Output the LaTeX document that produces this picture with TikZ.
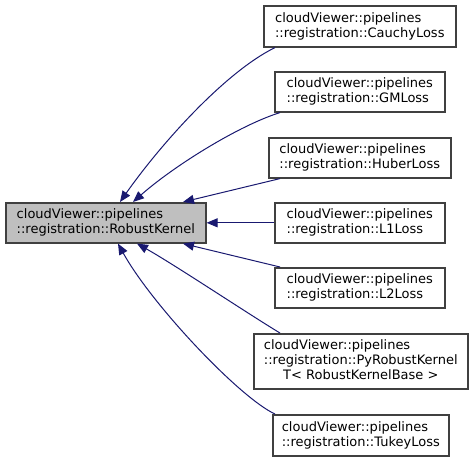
\documentclass[tikz,border=0pt]{standalone}
\usepackage{fontspec}
\setmainfont{DejaVu Sans}
\usetikzlibrary{arrows.meta}
\definecolor{edgeblue}{HTML}{191970}
\definecolor{boxborder}{HTML}{404040}
\definecolor{basefill}{HTML}{BFBFBF}
\begin{document}
\begin{tikzpicture}[x=1pt,y=-1pt,
  cls/.style={draw=boxborder, line width=1.6pt, fill=white, inner sep=0pt,
    align=left, font=\fontsize{13}{15}\selectfont, anchor=north west},
  inh/.style={draw=edgeblue, line width=1pt,
    {Triangle[length=11pt,width=9pt,fill=edgeblue]}-}]
\useasboundingbox (0,0) rectangle (472,460);
\node[cls, fill=basefill, minimum width=200pt, minimum height=40pt] (base) at (5,202)
  {cloudViewer::pipelines\\::registration::RobustKernel};
\node[cls, minimum width=192pt, minimum height=41pt] (cauchy) at (263,5)
  {cloudViewer::pipelines\\::registration::CauchyLoss};
\node[cls, minimum width=170pt, minimum height=40pt] (gm) at (274,71)
  {cloudViewer::pipelines\\::registration::GMLoss};
\node[cls, minimum width=182pt, minimum height=40pt] (huber) at (268,137)
  {cloudViewer::pipelines\\::registration::HuberLoss};
\node[cls, minimum width=170pt, minimum height=40pt] (l1) at (274,202)
  {cloudViewer::pipelines\\::registration::L1Loss};
\node[cls, minimum width=170pt, minimum height=40pt] (l2) at (274,267)
  {cloudViewer::pipelines\\::registration::L2Loss};
\node[cls, minimum width=214pt, minimum height=55pt] (py) at (253,333)
  {\begin{tabular}{@{}l@{}}cloudViewer::pipelines\\::registration::PyRobustKernel\\\multicolumn{1}{@{}c@{}}{T< RobustKernelBase >}\end{tabular}};
\node[cls, minimum width=176pt, minimum height=41pt] (tukey) at (272,414)
  {cloudViewer::pipelines\\::registration::TukeyLoss};

\draw[inh] ([xshift=115pt]base.north west) .. controls (160,145) and (225,72) .. ([xshift=12pt]cauchy.south west);
\draw[inh] ([xshift=128pt]base.north west) .. controls (175,165) and (240,125) .. ([xshift=6pt]gm.south west);
\draw[inh] ([xshift=178pt]base.north west) -- ([xshift=12pt]huber.south west);
\draw[inh] (base.east) -- (l1.west);
\draw[inh] ([xshift=178pt]base.south west) -- ([xshift=6pt]l2.north west);
\draw[inh] ([xshift=132pt]base.south west) .. controls (175,265) and (250,315) .. ([xshift=27pt]py.north west);
\draw[inh] ([xshift=113pt]base.south west) .. controls (152,305) and (240,398) .. ([xshift=3pt]tukey.north west);
\end{tikzpicture}
\end{document}
